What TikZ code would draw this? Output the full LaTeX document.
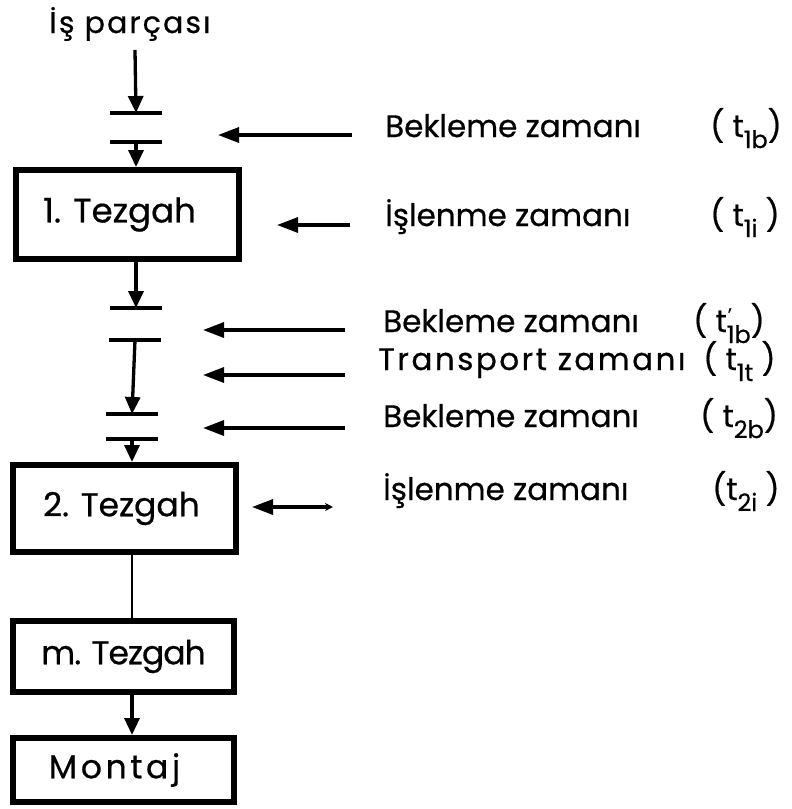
\documentclass[tikz,border=0pt]{standalone}
\usepackage{fontspec}
\setmainfont{Poppins}[FakeBold=0.6]
\usetikzlibrary{arrows.meta}
\newcommand\lowsub[1]{\raisebox{-11pt}{\fontsize{24}{24}\selectfont #1}}
\newcommand\tprime{\rlap{\raisebox{11pt}{\fontsize{18}{18}\selectfont\kern1pt'}}}
\begin{document}
\begin{tikzpicture}[x=1pt,y=-1pt,
  box/.style={draw, line width=6pt, inner sep=0pt, font=\fontsize{33}{33}\selectfont},
  bar/.style={line width=4pt},
  flow/.style={line width=3.3pt, -{Triangle[length=17pt,width=15pt]}},
  hint/.style={line width=3.3pt, -{Triangle[length=21pt,width=15pt]}},
  both/.style={line width=3.3pt, {Triangle[length=21pt,width=15pt]}-{Stealth[length=8pt,width=8pt]}},
  lbl/.style={anchor=base west, inner sep=0pt, font=\fontsize{31}{31}\selectfont},
]
\useasboundingbox (0,0) rectangle (792,809);

% boxes
\node[box, minimum width=223pt, minimum height=89pt] (t1) at (127.5,214.5) {\fontsize{34}{34}\selectfont 1. Tezgah\hspace*{16pt}};
\node[box, minimum width=223pt, minimum height=87pt] (t2) at (124.5,508.5) {2. Tezgah\hspace*{6pt}};
\node[box, minimum width=221pt, minimum height=71pt] (tm) at (123.5,656.5) {\addfontfeature{LetterSpace=-3}m. Tezgah};
\node[box, minimum width=221pt, minimum height=64pt] (mo) at (123.5,770) {\addfontfeature{LetterSpace=11}Montaj\hspace*{18pt}};

% input
\node[lbl, anchor=base, font=\fontsize{30}{30}\selectfont] (ip) at (130,33) {\addfontfeature{LetterSpace=7}İş parçası};
\coordinate (in) at (135,50);

% bars
\coordinate (b1) at (136,113);
\coordinate (b2) at (136,142);
\coordinate (b3) at (136,308);
\coordinate (b4) at (135,340);
\coordinate (b5) at (132,414);
\coordinate (b6) at (132,439);
\foreach \b in {b1,b2,b3,b4,b5,b6}
  \draw[bar] ([xshift=-26pt]\b) -- ([xshift=26pt]\b);

% flow
\draw[flow] (in) -- (b1);
\draw[flow] (b2) -- (b2 |- t1.north);
\draw[flow] (t1.south -| b3) -- (b3);
\draw[flow] (b4) -- (b5);
\draw[flow] (b6) -- (b6 |- t2.north);
\draw[line width=2.6pt] (t2.south -| b6) -- (tm.north -| b6);
\draw[flow] (tm.south -| b6) -- (mo.north -| b6);

% pointer arrows
\coordinate (a1s) at (352,135); \coordinate (a1e) at (218,135);
\coordinate (a2s) at (350,225); \coordinate (a2e) at (277,225);
\coordinate (a3s) at (345,330); \coordinate (a3e) at (203,330);
\coordinate (a4s) at (345,375); \coordinate (a4e) at (203,375);
\coordinate (a5s) at (345,428); \coordinate (a5e) at (203,428);
\coordinate (a6s) at (333,507); \coordinate (a6e) at (252,507);
\draw[hint] (a1s) -- (a1e);
\draw[hint] (a2s) -- (a2e);
\draw[hint] (a3s) -- (a3e);
\draw[hint] (a4s) -- (a4e);
\draw[hint] (a5s) -- (a5e);
\draw[both] (a6e) -- (a6s);

% labels
\node[lbl] (l1) at (385,137) {Bekleme zamanı};
\node[lbl] (s1) at (710,137) {( t\lowsub{1b})};
\node[lbl] (l2) at (385,226) {İşlenme zamanı};
\node[lbl] (s2) at (710,226) {( t\lowsub{1i} )};
\node[lbl] (l3) at (383,332) {Bekleme zamanı};
\node[lbl] (s3) at (693,332) {( t\tprime\lowsub{1b})};
\node[lbl] (l4) at (378,370) {\addfontfeature{LetterSpace=8}Transport zamanı};
\node[lbl] (s4) at (703,370) {( t\lowsub{1t} )};
\node[lbl] (l5) at (383,427) {Bekleme zamanı};
\node[lbl] (s5) at (700,427) {( t\lowsub{2b})};
\node[lbl] (l6) at (383,500) {İşlenme zamanı};
\node[lbl] (s6) at (712,500) {(t\lowsub{2i} )};
\end{tikzpicture}
\end{document}
